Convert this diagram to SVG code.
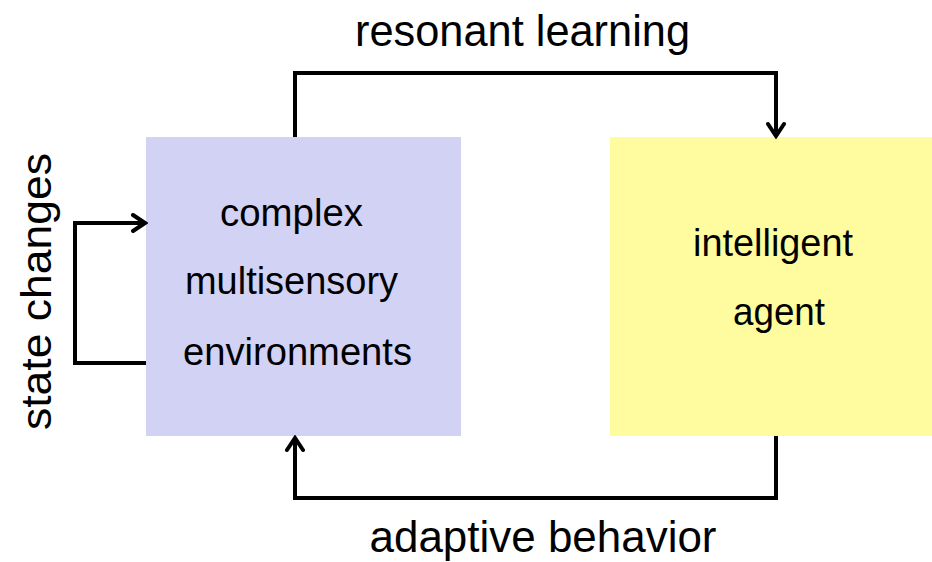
<svg xmlns="http://www.w3.org/2000/svg" width="932" height="562" viewBox="0 0 932 562">
<defs>
<style>
.lbl{font-family:"Liberation Sans",Arial,sans-serif;fill:#000;text-anchor:middle}
.big{font-size:44px}
.mid{font-size:38px}
.conn{fill:none;stroke:#000;stroke-width:4;stroke-linejoin:miter}
</style>
<marker id="arr" viewBox="0 0 18 20" refX="15" refY="10" markerWidth="18" markerHeight="20" markerUnits="userSpaceOnUse" orient="auto">
<path d="M3,2 L15,10 L3,18" fill="none" stroke="#000" stroke-width="4" stroke-linecap="round" stroke-linejoin="miter"/>
</marker>
</defs>
<rect width="932" height="562" fill="#fff"/>
<g id="env">
<rect x="146" y="137" width="315" height="299" fill="#d2d2f4"/>
<text class="lbl mid" x="291.5" y="226" textLength="143" lengthAdjust="spacingAndGlyphs">complex</text>
<text class="lbl mid" x="291.5" y="294" textLength="213" lengthAdjust="spacingAndGlyphs">multisensory</text>
<text class="lbl mid" x="297.5" y="365" textLength="229" lengthAdjust="spacingAndGlyphs">environments</text>
</g>
<g id="agent">
<rect x="610" y="137" width="322" height="299" fill="#fefc9e"/>
<text class="lbl mid" x="773" y="256" textLength="160" lengthAdjust="spacingAndGlyphs">intelligent</text>
<text class="lbl mid" x="779" y="325" textLength="92" lengthAdjust="spacingAndGlyphs">agent</text>
</g>
<g id="connectors">
<path class="conn" d="M295,137 V73 H776 V136" marker-end="url(#arr)"/>
<path class="conn" d="M776,436 V498 H295 V438" marker-end="url(#arr)"/>
<path class="conn" d="M146,363 H75 V223 H145" marker-end="url(#arr)"/>
</g>
<g id="labels">
<text class="lbl big" x="522.5" y="46" textLength="335" lengthAdjust="spacingAndGlyphs">resonant learning</text>
<text class="lbl big" x="543" y="552" textLength="347" lengthAdjust="spacingAndGlyphs">adaptive behavior</text>
<text class="lbl" transform="translate(51,291.5) rotate(-90)" x="0" y="0" textLength="277" lengthAdjust="spacingAndGlyphs" style="font-size:42px">state changes</text>
</g>
</svg>
